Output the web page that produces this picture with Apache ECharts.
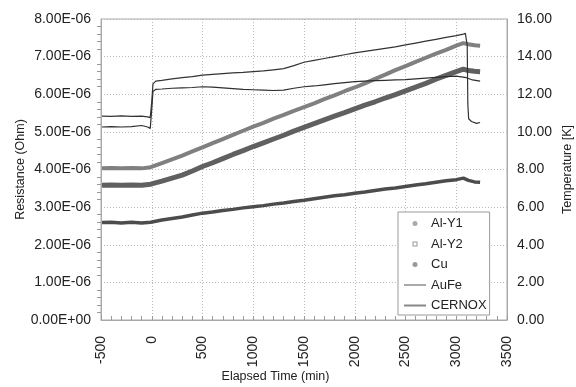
<!DOCTYPE html>
<html>
<head>
<meta charset="utf-8">
<script src="https://cdn.jsdelivr.net/npm/echarts@6/dist/echarts.min.js"></script>
<style>
  html, body { margin: 0; padding: 0; background: #fff; overflow: hidden; }
  #chart { width: 576px; height: 387px; }
</style>
</head>
<body>
<div id="chart"></div>
<script>
// Sample resistance readings (units of 1E-06 Ohm) against elapsed time (min)
const markerTime = [-490, -400, -300, -200, -100, -10, 100, 200, 300, 400, 500, 600, 700, 800, 900, 1000,
  1100, 1200, 1300, 1400, 1500, 1600, 1700, 1800, 1900, 2000, 2100, 2200, 2300, 2400, 2500,
  2600, 2700, 2800, 2900, 3000, 3070, 3120, 3180, 3235];
const alY1 = [4.03, 4.04, 4.03, 4.04, 4.03, 4.06, 4.17, 4.27, 4.37, 4.48, 4.59, 4.70, 4.81, 4.92, 5.03, 5.14,
  5.24, 5.35, 5.45, 5.56, 5.66, 5.76, 5.87, 5.97, 6.08, 6.18, 6.29, 6.41, 6.52, 6.64, 6.75,
  6.86, 6.97, 7.08, 7.18, 7.29, 7.36, 7.33, 7.30, 7.29];
const alY2 = [3.58, 3.59, 3.58, 3.59, 3.58, 3.61, 3.69, 3.77, 3.85, 3.96, 4.08, 4.18, 4.29, 4.40, 4.50, 4.61,
  4.71, 4.81, 4.91, 5.02, 5.12, 5.22, 5.32, 5.42, 5.51, 5.61, 5.71, 5.80, 5.90, 5.99, 6.09,
  6.19, 6.29, 6.40, 6.50, 6.60, 6.67, 6.63, 6.61, 6.60];
const cu = [2.59, 2.60, 2.58, 2.60, 2.58, 2.60, 2.66, 2.70, 2.74, 2.79, 2.84, 2.87, 2.91, 2.94, 2.98, 3.01,
  3.04, 3.08, 3.11, 3.15, 3.18, 3.22, 3.26, 3.30, 3.33, 3.37, 3.40, 3.44, 3.48, 3.51, 3.55,
  3.59, 3.62, 3.66, 3.70, 3.73, 3.77, 3.71, 3.67, 3.66];

// Thermometer readings (K)
const auFeTime = [-490, -400, -300, -200, -100, -40, -15, 0, 12, 40, 100, 200, 300, 400, 500, 600, 700, 800,
  900, 1000, 1100, 1200, 1300, 1400, 1500, 1600, 1700, 1800, 1900, 2000, 2100, 2200, 2300, 2400,
  2500, 2600, 2700, 2800, 2900, 3000, 3100, 3160, 3235];
const auFe = [10.26, 10.28, 10.26, 10.28, 10.34, 10.26, 10.18, 11.2, 12.15, 12.26, 12.28, 12.32, 12.34, 12.36,
  12.40, 12.38, 12.34, 12.30, 12.26, 12.24, 12.22, 12.20, 12.22, 12.32, 12.40, 12.44, 12.50, 12.56,
  12.62, 12.67, 12.70, 12.72, 12.74, 12.76, 12.78, 12.82, 12.86, 12.90, 12.94, 12.96, 12.88, 12.76, 12.70];
const cernoxTime = [-490, -400, -300, -200, -100, -40, -15, 0, 12, 40, 100, 200, 300, 400, 500, 600, 700, 800,
  900, 1000, 1100, 1200, 1300, 1400, 1500, 1600, 1700, 1800, 1900, 2000, 2100, 2200, 2300, 2400,
  2500, 2600, 2700, 2800, 2900, 3000, 3070, 3090, 3108, 3114, 3122, 3150, 3200, 3235];
const cernox = [10.84, 10.82, 10.85, 10.82, 10.84, 10.80, 10.76, 11.6, 12.55, 12.70, 12.74, 12.82, 12.88, 12.94,
  13.02, 13.06, 13.10, 13.14, 13.16, 13.20, 13.24, 13.30, 13.36, 13.52, 13.70, 13.80, 13.90, 14.00,
  14.10, 14.20, 14.28, 14.36, 14.44, 14.52, 14.62, 14.72, 14.82, 14.92, 15.02, 15.12, 15.20, 15.24,
  14.6, 11.5, 10.70, 10.55, 10.45, 10.50];

// Axis tick labels
const resistanceLabels = ['0.00E+00', '1.00E-06', '2.00E-06', '3.00E-06', '4.00E-06',
  '5.00E-06', '6.00E-06', '7.00E-06', '8.00E-06'];
const temperatureLabels = ['0.00', '2.00', '4.00', '6.00', '8.00', '10.00', '12.00', '14.00', '16.00'];
const timeLabels = ['-500', '0', '500', '1000', '1500', '2000', '2500', '3000', '3500'];

const pairs = (xs, ys) => xs.map((x, i) => [x, ys[i]]);

const FONT = 'Liberation Sans, Arial, sans-serif';
const chart = echarts.init(document.getElementById('chart'), null, { renderer: 'canvas' });

chart.setOption({
  animation: false,
  backgroundColor: '#fff',
  textStyle: { fontFamily: FONT },
  grid: {
    left: 101, right: 69, top: 19, bottom: 67,
    outerBoundsMode: 'none', containLabel: false,
    show: true, borderColor: '#aaa', borderWidth: 1
  },
  xAxis: {
    type: 'value', min: -500, max: 3500, interval: 500,
    name: 'Elapsed Time (min)', nameLocation: 'middle', nameGap: 50, nameMoveOverlap: false,
    nameTextStyle: { fontSize: 12.5, color: '#222', padding: [0, 57, 0, 0] },
    axisLine: { lineStyle: { color: '#aaa' } },
    axisTick: { show: true, inside: true, length: 4, lineStyle: { color: '#999' } },
    minorTick: { show: true, splitNumber: 5, length: 4, lineStyle: { color: '#999' } },
    splitLine: { show: true, lineStyle: { color: '#bbb', type: [1, 2] } },
    axisLabel: {
      rotate: 90, margin: 16, fontSize: 14, color: '#222',
      formatter: (v) => timeLabels[Math.round((v + 500) / 500)]
    }
  },
  yAxis: [
    {
      type: 'value', min: 0, max: 8, interval: 1, position: 'left',
      name: 'Resistance (Ohm)', nameLocation: 'middle', nameGap: 74, nameMoveOverlap: false,
      nameTextStyle: { fontSize: 12.5, color: '#222' },
      axisLine: { show: true, onZero: false, lineStyle: { color: '#aaa' } },
      axisTick: { show: false },
      minorTick: { show: true, splitNumber: 5, length: 4, lineStyle: { color: '#999' } },
      splitLine: { show: true, lineStyle: { color: '#bbb', type: [1, 2] } },
      axisLabel: {
        margin: 10, fontSize: 14, color: '#222',
        formatter: (v) => resistanceLabels[Math.round(v)]
      }
    },
    {
      type: 'value', min: 0, max: 16, interval: 2, position: 'right',
      name: 'Temperature [K]', nameLocation: 'middle', nameGap: 54, nameRotate: 90, nameMoveOverlap: false,
      nameTextStyle: { fontSize: 12.5, color: '#222' },
      axisLine: { show: true, onZero: false, lineStyle: { color: '#aaa' } },
      axisTick: { show: false },
      splitLine: { show: false },
      axisLabel: {
        margin: 10, fontSize: 14, color: '#222',
        formatter: (v) => temperatureLabels[Math.round(v / 2)]
      }
    }
  ],
  legend: {
    orient: 'vertical', left: 398, top: 212,
    padding: [4, 3, 2, 5], itemWidth: 22, itemHeight: 5, itemGap: 5.5,
    backgroundColor: '#fff', borderColor: '#999', borderWidth: 1, borderRadius: 0,
    symbolKeepAspect: true,
    textStyle: { fontSize: 13, color: '#222', lineHeight: 15, fontFamily: FONT },
    data: [
      { name: 'Al-Y1', icon: 'circle', itemStyle: { color: '#aaa' } },
      { name: 'Al-Y2', icon: 'path://M0,0H10V10H0ZM2,2V8H8V2Z', itemStyle: { color: '#999' } },
      { name: 'Cu', icon: 'circle', itemStyle: { color: '#999' } },
      { name: 'AuFe', itemStyle: { opacity: 0 }, lineStyle: { color: '#555', width: 1 } },
      { name: 'CERNOX', itemStyle: { opacity: 0 }, lineStyle: { color: '#888', width: 2 } }
    ]
  },
  series: [
    {
      name: 'Al-Y1', type: 'line', yAxisIndex: 0, showSymbol: false, symbol: 'none',
      data: pairs(markerTime, alY1),
      itemStyle: { color: '#999' },
      lineStyle: { color: '#808080', width: 4 }, z: 2
    },
    {
      name: 'Al-Y2', type: 'line', yAxisIndex: 0, showSymbol: false, symbol: 'none',
      data: pairs(markerTime, alY2),
      itemStyle: { color: '#999' },
      lineStyle: { color: '#606060', width: 5 }, z: 2
    },
    {
      name: 'Cu', type: 'line', yAxisIndex: 0, showSymbol: false, symbol: 'none',
      data: pairs(markerTime, cu),
      itemStyle: { color: '#888' },
      lineStyle: { color: '#4c4c4c', width: 3.5 }, z: 2
    },
    {
      name: 'AuFe', type: 'line', yAxisIndex: 1, showSymbol: false, symbol: 'none',
      data: pairs(auFeTime, auFe),
      itemStyle: { color: '#555' },
      lineStyle: { color: '#2e2e2e', width: 1.2 }, z: 3
    },
    {
      name: 'CERNOX', type: 'line', yAxisIndex: 1, showSymbol: false, symbol: 'none',
      data: pairs(cernoxTime, cernox),
      itemStyle: { color: '#777' },
      lineStyle: { color: '#333', width: 1.2 }, z: 3
    }
  ]
});
</script>
</body>
</html>
